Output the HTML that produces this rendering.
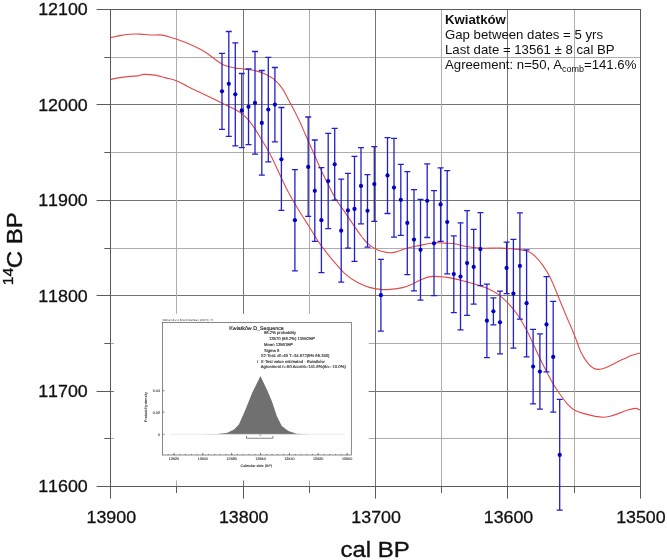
<!DOCTYPE html>
<html lang="pl"><head><meta charset="utf-8"><title>Kwiatków</title>
<style>html,body{margin:0;padding:0;background:#fff}svg{display:block}</style></head>
<body>
<svg width="667" height="560" viewBox="0 0 667 560" font-family="'Liberation Sans', Arial, sans-serif">
<rect width="667" height="560" fill="#fff"/>
<g stroke-width="1" fill="none">
<line x1="110.5" x2="640.5" y1="438.5" y2="438.5" stroke="#adadad"/>
<line x1="110.5" x2="640.5" y1="391.5" y2="391.5" stroke="#747474"/>
<line x1="110.5" x2="640.5" y1="343.5" y2="343.5" stroke="#adadad"/>
<line x1="110.5" x2="640.5" y1="295.5" y2="295.5" stroke="#747474"/>
<line x1="110.5" x2="640.5" y1="248.5" y2="248.5" stroke="#adadad"/>
<line x1="110.5" x2="640.5" y1="200.5" y2="200.5" stroke="#747474"/>
<line x1="110.5" x2="640.5" y1="152.5" y2="152.5" stroke="#adadad"/>
<line x1="110.5" x2="640.5" y1="104.5" y2="104.5" stroke="#747474"/>
<line x1="110.5" x2="640.5" y1="57.5" y2="57.5" stroke="#adadad"/>
<line x1="574.5" x2="574.5" y1="9.5" y2="486.5" stroke="#adadad"/>
<line x1="507.5" x2="507.5" y1="9.5" y2="486.5" stroke="#747474"/>
<line x1="441.5" x2="441.5" y1="9.5" y2="486.5" stroke="#adadad"/>
<line x1="375.5" x2="375.5" y1="9.5" y2="486.5" stroke="#747474"/>
<line x1="309.5" x2="309.5" y1="9.5" y2="486.5" stroke="#adadad"/>
<line x1="243.5" x2="243.5" y1="9.5" y2="486.5" stroke="#747474"/>
<line x1="176.5" x2="176.5" y1="9.5" y2="486.5" stroke="#adadad"/>
</g>
<rect x="114" y="313.8" width="254.6" height="166.6" fill="#fff"/>
<rect x="110.5" y="9.5" width="530.0" height="477.0" fill="none" stroke="#5a5a5a" stroke-width="1"/>
<g stroke="#5a5a5a" stroke-width="1">
<line x1="96.6" x2="110.5" y1="486.5" y2="486.5"/>
<line x1="104.3" x2="110.5" y1="438.5" y2="438.5"/>
<line x1="96.6" x2="110.5" y1="391.5" y2="391.5"/>
<line x1="104.3" x2="110.5" y1="343.5" y2="343.5"/>
<line x1="96.6" x2="110.5" y1="295.5" y2="295.5"/>
<line x1="104.3" x2="110.5" y1="248.5" y2="248.5"/>
<line x1="96.6" x2="110.5" y1="200.5" y2="200.5"/>
<line x1="104.3" x2="110.5" y1="152.5" y2="152.5"/>
<line x1="96.6" x2="110.5" y1="104.5" y2="104.5"/>
<line x1="104.3" x2="110.5" y1="57.5" y2="57.5"/>
<line x1="96.6" x2="110.5" y1="9.5" y2="9.5"/>
<line x1="640.5" x2="640.5" y1="486.5" y2="498.6"/>
<line x1="574.5" x2="574.5" y1="486.5" y2="493.0"/>
<line x1="507.5" x2="507.5" y1="486.5" y2="498.6"/>
<line x1="441.5" x2="441.5" y1="486.5" y2="493.0"/>
<line x1="375.5" x2="375.5" y1="486.5" y2="498.6"/>
<line x1="309.5" x2="309.5" y1="486.5" y2="493.0"/>
<line x1="243.5" x2="243.5" y1="486.5" y2="498.6"/>
<line x1="176.5" x2="176.5" y1="486.5" y2="493.0"/>
<line x1="110.5" x2="110.5" y1="486.5" y2="498.6"/>
</g>
<g font-size="17" fill="#111" stroke="#111" stroke-width="0.3" style="font-kerning:none">
<text transform="translate(87.7 492.4) scale(1.048 1)" text-anchor="end">11600</text>
<text transform="translate(87.7 397.0) scale(1.048 1)" text-anchor="end">11700</text>
<text transform="translate(87.7 301.6) scale(1.048 1)" text-anchor="end">11800</text>
<text transform="translate(87.7 206.1) scale(1.048 1)" text-anchor="end">11900</text>
<text transform="translate(87.7 110.7) scale(1.048 1)" text-anchor="end">12000</text>
<text transform="translate(87.7 15.3) scale(1.048 1)" text-anchor="end">12100</text>
<text transform="translate(640.9 523.4) scale(1.048 1)" text-anchor="middle">13500</text>
<text transform="translate(508.5 523.4) scale(1.048 1)" text-anchor="middle">13600</text>
<text transform="translate(376.1 523.4) scale(1.048 1)" text-anchor="middle">13700</text>
<text transform="translate(243.7 523.4) scale(1.048 1)" text-anchor="middle">13800</text>
<text transform="translate(111.3 523.4) scale(1.048 1)" text-anchor="middle">13900</text>
</g>
<text transform="translate(375.1 557.2) scale(1.10 1)" font-size="21.8" text-anchor="middle" fill="#111" stroke="#111" stroke-width="0.35">cal BP</text>
<text transform="translate(22.3 268.3) rotate(-90) scale(1.10 1)" font-size="21.8" fill="#111" stroke="#111" stroke-width="0.35">C BP</text>
<text transform="translate(13.4 285.2) rotate(-90) scale(1.08 1)" font-size="14.5" fill="#111" stroke="#111" stroke-width="0.3">14</text>
<g fill="none" stroke="#e24a4a" stroke-width="1.1">
<path d="M110.7 37.6C112.2 37.3 116.8 36.2 120.0 35.6C123.2 35.0 126.7 34.5 130.0 34.2C133.3 34.0 136.7 34.0 140.0 34.1C143.3 34.2 146.2 34.8 150.0 35.0C153.8 35.2 158.8 34.6 162.6 35.1C166.4 35.6 170.2 37.3 172.6 38.0C175.0 38.7 174.4 38.4 176.9 39.3C179.4 40.2 183.7 41.6 187.6 43.3C191.5 45.0 196.8 47.5 200.2 49.3C203.5 51.0 204.8 51.8 207.7 53.8C210.6 55.8 214.8 59.3 217.7 61.3C220.6 63.3 222.3 64.5 225.2 65.6C228.1 66.7 232.2 67.5 235.2 68.1C238.2 68.6 239.9 68.5 243.2 68.9C246.5 69.3 251.6 69.7 255.2 70.6C258.8 71.5 261.7 72.5 265.0 74.1C268.3 75.7 272.1 77.6 275.0 80.1C277.9 82.6 280.3 85.6 282.6 88.9C284.9 92.2 286.6 96.3 288.6 100.0C290.6 103.7 292.6 107.2 294.5 111.0C296.4 114.8 298.5 118.9 300.3 122.8C302.1 126.7 303.9 131.1 305.4 134.5C306.9 137.9 307.6 139.5 309.4 143.5C311.2 147.5 313.8 153.5 316.0 158.5C318.2 163.5 320.3 168.5 322.7 173.5C325.1 178.5 327.9 184.1 330.2 188.5C332.5 192.9 334.0 196.2 336.5 200.2C339.0 204.2 342.1 208.0 345.2 212.6C348.3 217.2 352.4 223.4 355.2 227.5C358.0 231.6 359.9 234.4 362.0 237.0C364.1 239.6 365.0 241.1 367.6 243.3C370.2 245.5 374.4 248.6 377.7 250.1C381.0 251.6 384.8 252.3 387.7 252.6C390.6 252.9 392.3 252.7 395.2 252.1C398.1 251.5 401.9 249.8 405.2 248.8C408.5 247.8 411.9 247.0 415.2 246.3C418.5 245.6 421.9 245.0 425.2 244.4C428.5 243.8 431.7 242.9 435.0 242.7C438.3 242.5 441.7 242.9 445.0 243.1C448.3 243.3 451.7 243.3 455.0 243.8C458.3 244.3 460.8 245.6 465.0 246.3C469.2 247.0 474.1 247.8 480.0 248.1C485.9 248.4 494.2 247.9 500.1 248.1C506.0 248.3 510.5 248.6 515.1 249.1C519.7 249.6 524.4 250.1 527.7 251.3C531.1 252.5 532.7 254.0 535.2 256.3C537.7 258.6 540.2 261.6 542.7 265.1C545.2 268.7 547.7 272.6 550.2 277.6C552.7 282.6 555.2 289.1 557.7 295.2C560.2 301.3 563.1 308.5 565.4 314.0C567.7 319.5 569.6 323.6 571.5 328.0C573.4 332.4 575.0 336.6 576.5 340.5C578.0 344.4 578.9 347.9 580.6 351.5C582.4 355.1 584.9 359.4 587.0 362.2C589.1 365.0 591.4 367.0 593.5 368.2C595.6 369.4 597.8 369.4 599.9 369.3C602.0 369.2 603.8 368.5 606.3 367.5C608.8 366.5 612.0 364.6 614.9 363.2C617.8 361.8 620.6 360.3 623.5 359.0C626.4 357.7 629.3 356.3 632.1 355.3C634.9 354.3 638.9 353.4 640.2 353.0"/>
<path d="M110.7 79.4C112.2 79.1 116.8 78.1 120.0 77.6C123.2 77.1 127.1 76.7 130.0 76.4C132.9 76.1 135.3 76.2 137.6 75.9C139.9 75.6 140.9 74.5 143.8 74.4C146.7 74.3 151.6 74.6 155.1 75.1C158.6 75.6 161.5 76.6 165.1 77.6C168.7 78.6 173.2 79.4 176.9 80.9C180.7 82.4 183.7 84.5 187.6 86.4C191.5 88.4 196.0 90.6 200.2 92.6C204.4 94.6 208.5 96.4 212.7 98.4C216.9 100.4 222.3 103.3 225.2 104.7C228.1 106.1 228.3 106.1 230.0 106.9C231.7 107.7 233.4 108.5 235.4 109.6C237.4 110.7 239.7 111.9 241.8 113.6C243.9 115.3 246.0 117.1 248.2 119.6C250.3 122.1 252.5 125.1 254.7 128.4C256.9 131.8 259.5 136.2 261.6 139.7C263.7 143.2 265.8 146.3 267.5 149.3C269.2 152.3 269.5 152.8 271.8 157.5C274.1 162.2 278.6 172.1 281.3 177.8C284.0 183.5 285.7 187.1 288.0 191.5C290.3 195.9 292.8 200.1 295.2 204.3C297.6 208.5 300.3 212.7 302.7 216.5C305.1 220.3 306.9 223.0 309.4 227.0C311.9 231.0 315.2 236.8 317.5 240.3C319.8 243.8 320.5 244.7 323.0 248.0C325.5 251.3 328.9 255.8 332.6 260.1C336.3 264.4 340.9 270.1 345.1 273.9C349.3 277.6 353.4 280.3 357.6 282.6C361.8 284.9 366.4 286.5 370.2 287.6C374.0 288.7 376.9 289.1 380.2 289.4C383.5 289.7 386.4 289.7 390.2 289.4C393.9 289.1 398.9 288.5 402.7 287.6C406.4 286.7 409.4 285.3 412.7 283.9C416.0 282.4 419.4 280.1 422.7 278.9C426.0 277.6 428.8 276.7 432.5 276.4C436.2 276.1 441.2 276.7 445.0 277.1C448.8 277.5 451.7 278.2 455.0 278.9C458.3 279.6 461.2 280.4 465.0 281.4C468.8 282.4 473.8 283.9 477.6 285.1C481.4 286.3 484.3 287.0 487.6 288.5C490.9 290.0 494.3 291.5 497.6 293.9C500.9 296.3 504.2 299.2 507.6 302.7C511.0 306.2 514.4 310.1 517.7 315.0C521.0 319.9 523.9 324.7 527.6 332.0C531.4 339.3 536.0 350.4 540.2 358.9C544.4 367.4 549.4 377.1 552.7 383.0C556.0 388.9 557.7 390.9 560.2 394.5C562.7 398.1 565.2 401.6 567.7 404.3C570.2 407.0 572.3 409.0 575.2 410.6C578.1 412.2 581.9 412.9 585.2 413.9C588.5 414.9 592.2 415.8 595.2 416.4C598.2 416.9 600.5 417.2 603.0 417.2C605.5 417.2 607.5 416.8 610.0 416.2C612.5 415.6 614.8 414.8 617.7 413.8C620.7 412.8 624.8 410.9 627.7 410.0C630.6 409.1 633.1 408.4 635.2 408.4C637.3 408.4 639.4 409.7 640.2 410.0"/>
</g>
<g stroke="#2020cc" stroke-width="1.3" fill="none">
<path d="M222.0 53.3V129.3M219.0 53.3h6M219.0 129.3h6M228.8 31.5V136.3M225.8 31.5h6M225.8 136.3h6M235.3 42.8V145.8M232.3 42.8h6M232.3 145.8h6M241.8 73.5V147.6M238.8 73.5h6M238.8 147.6h6M248.5 69.0V144.6M245.5 69.0h6M245.5 144.6h6M255.0 51.5V154.1M252.0 51.5h6M252.0 154.1h6M261.8 70.5V175.1M258.8 70.5h6M258.8 175.1h6M268.3 57.3V161.8M265.3 57.3h6M265.3 161.8h6M274.9 67.5V141.8M271.9 67.5h6M271.9 141.8h6M281.4 107.5V210.4M278.4 107.5h6M278.4 210.4h6M294.9 169.6V270.9M291.9 169.6h6M291.9 270.9h6M308.2 117.0V216.4M305.2 117.0h6M305.2 216.4h6M314.8 140.0V241.3M311.8 140.0h6M311.8 241.3h6M321.4 167.6V272.6M318.4 167.6h6M318.4 272.6h6M328.2 133.3V228.7M325.2 133.3h6M325.2 228.7h6M334.7 128.3V200.1M331.7 128.3h6M331.7 200.1h6M341.2 179.1V282.1M338.2 179.1h6M338.2 282.1h6M347.9 173.4V248.1M344.9 173.4h6M344.9 248.1h6M354.5 156.3V261.4M351.5 156.3h6M351.5 261.4h6M361.0 147.6V223.8M358.0 147.6h6M358.0 223.8h6M367.5 174.6V247.1M364.5 174.6h6M364.5 247.1h6M374.3 146.6V221.4M371.3 146.6h6M371.3 221.4h6M380.9 259.4V331.1M377.9 259.4h6M377.9 331.1h6M387.5 137.6V213.5M384.5 137.6h6M384.5 213.5h6M394.0 138.3V237.2M391.0 138.3h6M391.0 237.2h6M400.8 164.3V235.4M397.8 164.3h6M397.8 235.4h6M407.3 171.6V274.6M404.3 171.6h6M404.3 274.6h6M414.0 189.6V290.9M411.0 189.6h6M411.0 290.9h6M420.5 199.3V300.2M417.5 199.3h6M417.5 300.2h6M427.2 163.8V237.5M424.2 163.8h6M424.2 237.5h6M434.0 190.6V295.7M431.0 190.6h6M431.0 295.7h6M440.6 167.9V241.3M437.6 167.9h6M437.6 241.3h6M447.2 170.6V273.9M444.2 170.6h6M444.2 273.9h6M453.8 235.9V312.7M450.8 235.9h6M450.8 312.7h6M460.5 222.8V329.8M457.5 222.8h6M457.5 329.8h6M467.1 210.6V315.4M464.1 210.6h6M464.1 315.4h6M473.7 229.3V304.2M470.7 229.3h6M470.7 304.2h6M480.4 212.7V285.6M477.4 212.7h6M477.4 285.6h6M486.9 284.1V357.6M483.9 284.1h6M483.9 357.6h6M493.4 297.8V324.8M490.4 297.8h6M490.4 324.8h6M500.0 291.2V353.8M497.0 291.2h6M497.0 353.8h6M506.6 242.1V293.6M503.6 242.1h6M503.6 293.6h6M513.4 239.3V348.1M510.4 239.3h6M510.4 348.1h6M519.9 212.8V319.2M516.9 212.8h6M516.9 319.2h6M526.6 249.8V356.9M523.6 249.8h6M523.6 356.9h6M533.1 329.3V403.9M530.1 329.3h6M530.1 403.9h6M539.9 333.8V409.2M536.9 333.8h6M536.9 409.2h6M546.5 276.6V371.9M543.5 276.6h6M543.5 371.9h6M553.2 301.3V412.2M550.2 301.3h6M550.2 412.2h6M559.7 399.3V510.2M556.7 399.3h6M556.7 510.2h6"/>
</g>
<g fill="#0000c8">
<circle cx="222.0" cy="91.3" r="2.1"/>
<circle cx="228.8" cy="83.8" r="2.1"/>
<circle cx="235.3" cy="94.3" r="2.1"/>
<circle cx="241.8" cy="110.4" r="2.1"/>
<circle cx="248.5" cy="106.8" r="2.1"/>
<circle cx="255.0" cy="102.9" r="2.1"/>
<circle cx="261.8" cy="122.9" r="2.1"/>
<circle cx="268.3" cy="109.5" r="2.1"/>
<circle cx="274.9" cy="104.6" r="2.1"/>
<circle cx="281.4" cy="159.3" r="2.1"/>
<circle cx="294.9" cy="220.2" r="2.1"/>
<circle cx="308.2" cy="166.9" r="2.1"/>
<circle cx="314.8" cy="190.8" r="2.1"/>
<circle cx="321.4" cy="220.2" r="2.1"/>
<circle cx="328.2" cy="181.1" r="2.1"/>
<circle cx="334.7" cy="164.3" r="2.1"/>
<circle cx="341.2" cy="230.7" r="2.1"/>
<circle cx="347.9" cy="210.4" r="2.1"/>
<circle cx="354.5" cy="208.9" r="2.1"/>
<circle cx="361.0" cy="185.9" r="2.1"/>
<circle cx="367.5" cy="210.8" r="2.1"/>
<circle cx="374.3" cy="184.1" r="2.1"/>
<circle cx="380.9" cy="295.2" r="2.1"/>
<circle cx="387.5" cy="175.4" r="2.1"/>
<circle cx="394.0" cy="187.6" r="2.1"/>
<circle cx="400.8" cy="199.8" r="2.1"/>
<circle cx="407.3" cy="222.9" r="2.1"/>
<circle cx="414.0" cy="239.6" r="2.1"/>
<circle cx="420.5" cy="249.8" r="2.1"/>
<circle cx="427.2" cy="200.8" r="2.1"/>
<circle cx="434.0" cy="243.3" r="2.1"/>
<circle cx="440.6" cy="204.4" r="2.1"/>
<circle cx="447.2" cy="222.0" r="2.1"/>
<circle cx="453.8" cy="274.1" r="2.1"/>
<circle cx="460.5" cy="276.6" r="2.1"/>
<circle cx="467.1" cy="263.1" r="2.1"/>
<circle cx="473.7" cy="266.9" r="2.1"/>
<circle cx="480.4" cy="249.1" r="2.1"/>
<circle cx="486.9" cy="320.7" r="2.1"/>
<circle cx="493.4" cy="311.3" r="2.1"/>
<circle cx="500.0" cy="322.3" r="2.1"/>
<circle cx="506.6" cy="267.9" r="2.1"/>
<circle cx="513.4" cy="293.6" r="2.1"/>
<circle cx="519.9" cy="265.9" r="2.1"/>
<circle cx="526.6" cy="303.2" r="2.1"/>
<circle cx="533.1" cy="366.6" r="2.1"/>
<circle cx="539.9" cy="371.6" r="2.1"/>
<circle cx="546.5" cy="324.4" r="2.1"/>
<circle cx="553.2" cy="356.9" r="2.1"/>
<circle cx="559.7" cy="454.9" r="2.1"/>
</g>
<g font-size="13.2" fill="#111">
<text x="445" y="24.1" font-weight="bold">Kwiatków</text>
<text x="445" y="39">Gap between dates = 5 yrs</text>
<text x="445" y="53.8">Last date = 13561 ± 8 cal BP</text>
<text x="445" y="68.7">Agreement: n=50, A<tspan font-size="9" dy="3">comb</tspan><tspan dy="-3">=141.6%</tspan></text>
</g>
<g style="text-rendering:geometricPrecision">
<rect x="162.4" y="322.6" width="188.9" height="132.4" fill="#fff" stroke="#555" stroke-width="0.7"/>
<path d="M200.0 434.3 L217.5 434.1 L227.4 432.7 L234.0 429.4 L238.9 424.4 L245.5 409.6 L252.1 393.1 L260.4 375.9 L267.0 389.8 L271.9 401.3 L276.9 416.2 L281.8 426.1 L288.4 431.0 L296.7 433.7 L310.0 434.3 Z" fill="#707070"/>
<line x1="170" x2="345" y1="434.3" y2="434.3" stroke="#ddd" stroke-width="0.6"/>
<path d="M246.5 436V438.3H272.9V436" fill="none" stroke="#555" stroke-width="0.7"/>
<circle cx="260.4" cy="435" r="0.9" fill="#fff" stroke="#666" stroke-width="0.4"/>
<path d="M174.0 455v-2.2M202.8 455v-2.2M231.7 455v-2.2M260.6 455v-2.2M289.4 455v-2.2M318.2 455v-2.2M347.1 455v-2.2M168.2 455v-1.1M174.0 455v-1.1M179.8 455v-1.1M185.5 455v-1.1M191.3 455v-1.1M197.1 455v-1.1M202.9 455v-1.1M208.6 455v-1.1M214.4 455v-1.1M220.2 455v-1.1M225.9 455v-1.1M231.7 455v-1.1M237.5 455v-1.1M243.2 455v-1.1M249.0 455v-1.1M254.8 455v-1.1M260.6 455v-1.1M266.3 455v-1.1M272.1 455v-1.1M277.9 455v-1.1M283.6 455v-1.1M289.4 455v-1.1M295.2 455v-1.1M300.9 455v-1.1M306.7 455v-1.1M312.5 455v-1.1M318.2 455v-1.1M324.0 455v-1.1M329.8 455v-1.1M335.6 455v-1.1M341.3 455v-1.1M347.1 455v-1.1M162.4 390.8h2.2M162.4 412.2h2.2M162.4 434.3h2.2" stroke="#444" stroke-width="0.6" fill="none"/>
<g font-size="3.7" fill="#2a2a2a" stroke="#2a2a2a" stroke-width="0.08" text-anchor="middle">
<text x="174.0" y="459.8">13620</text>
<text x="202.8" y="459.8">13600</text>
<text x="231.7" y="459.8">13580</text>
<text x="260.6" y="459.8">13560</text>
<text x="289.4" y="459.8">13540</text>
<text x="318.2" y="459.8">13520</text>
<text x="347.1" y="459.8">13500</text>
<text x="256.3" y="467">Calendar date (BP)</text>
<text transform="translate(147.2 407) rotate(-90)">Probability density</text>
</g>
<g font-size="3.7" fill="#2a2a2a" stroke="#2a2a2a" stroke-width="0.08" text-anchor="end">
<text x="160" y="392.1">0.04</text><text x="160" y="413.5">0.02</text><text x="160" y="435.6">0</text>
</g>
<text x="162.4" y="321.3" font-size="2.9" fill="#333">OxCal v4.2.3 Bronk Ramsey (2017); r:5</text>
<text x="229.3" y="330" font-size="5.3" fill="#222" stroke="#222" stroke-width="0.15">Kwiatków D_Sequence</text>
<g font-size="4.2" fill="#2a2a2a" stroke="#2a2a2a" stroke-width="0.12" transform="translate(0 -0.4)">
<text x="264.0" y="334.9">68.2% probability</text>
<text x="268.9" y="340.8">13570 (68.2%) 13552BP</text>
<text x="264.0" y="346.6">Mean 13561BP</text>
<text x="264.0" y="352.1">Sigma 8</text>
<text x="260.7" y="357.7">X2-Test: df=49 T=34.572(5% 65.340)</text>
<text x="260.7" y="363.2">X-Test value estimated - Kwiatków</text>
<text x="260.7" y="368.6">Agreement n=50 Acomb=141.6%(An= 10.0%)</text>
<text x="256.8" y="363.2">r</text>
</g>
</g>
</svg>
</body></html>
